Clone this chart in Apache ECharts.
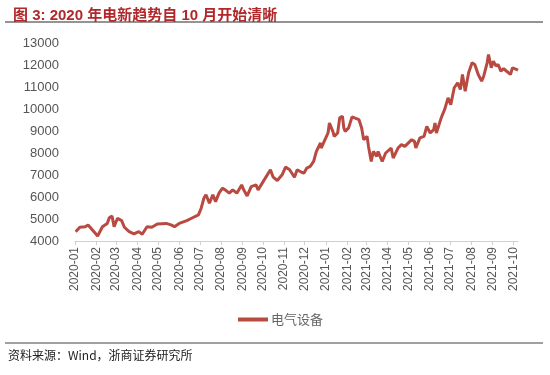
<!DOCTYPE html>
<html>
<head>
<meta charset="utf-8">
<style>
  html, body { margin: 0; padding: 0; background: #fff; }
  #chart { width: 550px; height: 375px; }
</style>
<script src="https://cdn.jsdelivr.net/npm/echarts@6/dist/echarts.min.js"></script>
</head>
<body>
<div id="chart"></div>
<script>
// 电气设备指数
var dates = [
  '2020-01-02','2020-01-08','2020-01-16','2020-01-20','2020-01-23','2020-02-03','2020-02-10','2020-02-17',
  '2020-02-20','2020-02-24','2020-02-27','2020-03-03','2020-03-09','2020-03-13','2020-03-20','2020-03-27',
  '2020-04-03','2020-04-08','2020-04-15','2020-04-22','2020-04-30','2020-05-13','2020-05-20','2020-05-25',
  '2020-06-01','2020-06-12','2020-06-19','2020-06-29','2020-07-03','2020-07-07','2020-07-10','2020-07-15',
  '2020-07-20','2020-07-24','2020-07-29','2020-08-03','2020-08-07','2020-08-13','2020-08-18','2020-08-24',
  '2020-08-31','2020-09-03','2020-09-08','2020-09-14','2020-09-21','2020-09-24','2020-09-30','2020-10-12',
  '2020-10-16','2020-10-22','2020-10-29','2020-11-03','2020-11-09','2020-11-16','2020-11-20','2020-11-27',
  '2020-11-30','2020-12-04','2020-12-09','2020-12-14','2020-12-18','2020-12-24','2020-12-25','2021-01-04',
  '2021-01-06','2021-01-11','2021-01-13','2021-01-18','2021-01-21','2021-01-25','2021-01-27','2021-01-29',
  '2021-02-03','2021-02-08','2021-02-18','2021-02-22','2021-02-25','2021-03-02','2021-03-04','2021-03-08',
  '2021-03-11','2021-03-16','2021-03-18','2021-03-24','2021-03-29','2021-04-06','2021-04-09','2021-04-16',
  '2021-04-21','2021-04-26','2021-05-06','2021-05-10','2021-05-12','2021-05-18','2021-05-24','2021-05-28',
  '2021-06-02','2021-06-07','2021-06-09','2021-06-11','2021-06-18','2021-06-23','2021-06-28','2021-07-02',
  '2021-07-07','2021-07-12','2021-07-16','2021-07-19','2021-07-23','2021-07-28','2021-08-02','2021-08-06',
  '2021-08-11','2021-08-16','2021-08-19','2021-08-24','2021-08-26','2021-08-30','2021-09-02','2021-09-06',
  '2021-09-09','2021-09-13','2021-09-17','2021-09-27','2021-09-30','2021-10-08'
];
var values = [
  4424, 4625, 4650, 4730, 4625, 4230, 4650, 4800,
  5060, 5140, 4650, 5035, 4925, 4625, 4425, 4320,
  4425, 4305, 4650, 4625, 4775, 4800, 4730, 4650,
  4800, 4925, 5035, 5185, 5490, 5950, 6100, 5720,
  6100, 5790, 6175, 6400, 6325, 6175, 6325, 6175,
  6550, 6325, 6050, 6475, 6550, 6325, 6630, 7240,
  6900, 6750, 7010, 7360, 7240, 6900, 7240, 7115,
  7090, 7315, 7390, 7615, 8070, 8455, 8225, 8910,
  9365, 8985, 8755, 8910, 9595, 9670, 9140, 8985,
  9140, 9640, 9520, 9140, 8605, 8755, 8300, 7615,
  8070, 7845, 8070, 7615, 8000, 8225, 7770, 8225,
  8380, 8300, 8605, 8530, 8225, 8685, 8755, 9210,
  8910, 9060, 9365, 8910, 9595, 9975, 10505, 10200,
  10965, 11190, 10885, 11570, 10810, 11645, 12100, 12025,
  11570, 11265, 11490, 12100, 12480, 11875, 12175, 11950,
  12025, 11720, 11830, 11570, 11875, 11765
];
var seriesName = '电气设备';
var titleText = '图 3: 2020 年电新趋势自 10 月开始清晰';
var sourceText = '资料来源：Wind，浙商证券研究所';

var chart = echarts.init(document.getElementById('chart'));
var lineData = dates.map(function (d, i) { return [d, values[i]]; });

var option = {
  animation: false,
  backgroundColor: '#fff',
  textStyle: { fontFamily: '"Noto Sans CJK SC", "Liberation Sans", sans-serif' },
  title: {
    text: titleText,
    left: 8, top: 3,
    textStyle: { color: '#b0282a', fontSize: 15, fontWeight: 'bold',
      fontFamily: '"Liberation Sans", "Noto Sans CJK SC", sans-serif' }
  },
  graphic: [
    { type: 'line', shape: { x1: 5, y1: 22, x2: 543, y2: 22 }, style: { stroke: '#707070', lineWidth: 1.5 } },
    { type: 'line', shape: { x1: 5, y1: 343, x2: 543, y2: 343 }, style: { stroke: '#808080', lineWidth: 1.5 } },
    { type: 'text', left: 8, top: 349, style: { text: sourceText, fill: '#222', fontSize: 12,
      fontFamily: '"Noto Sans CJK SC", sans-serif' } }
  ],
  legend: {
    data: [seriesName],
    left: 233, top: 308,
    itemWidth: 30, itemHeight: 4, itemGap: 4,
    icon: 'rect',
    textStyle: { color: '#666', fontSize: 13, padding: [0, 0, 0, -2] }
  },
  grid: { left: 75, right: 32, top: 43, bottom: 134 },
  xAxis: {
    type: 'time',
    min: '2020-01-01',
    max: '2021-10-08',
    minInterval: 28 * 86400000,
    maxInterval: 31 * 86400000,
    axisLine: { lineStyle: { color: '#d0d0d0' } },
    axisTick: { show: true, length: 4, lineStyle: { color: '#d0d0d0' } },
    splitLine: { show: false },
    axisLabel: {
      rotate: 90,
      color: '#555',
      fontSize: 12,
      margin: 6,
      showMinLabel: true,
      fontFamily: '"Liberation Sans", sans-serif',
      formatter: function (v) {
        var d = new Date(v);
        var m = d.getMonth() + 1;
        return d.getFullYear() + '-' + (m < 10 ? '0' + m : m);
      }
    }
  },
  yAxis: {
    type: 'value',
    min: 4000, max: 13000, interval: 1000,
    axisLine: { show: false },
    axisTick: { show: false },
    splitLine: { show: false },
    axisLabel: {
      color: '#555', fontSize: 13, margin: 16,
      fontFamily: '"Liberation Sans", sans-serif',
      formatter: function (v) { return String(v); }
    }
  },
  series: [{
    name: seriesName,
    type: 'line',
    data: lineData,
    showSymbol: false,
    lineStyle: { color: '#b84a42', width: 3 },
    itemStyle: { color: '#b84a42' }
  }]
};
chart.setOption(option);
</script>
</body>
</html>
